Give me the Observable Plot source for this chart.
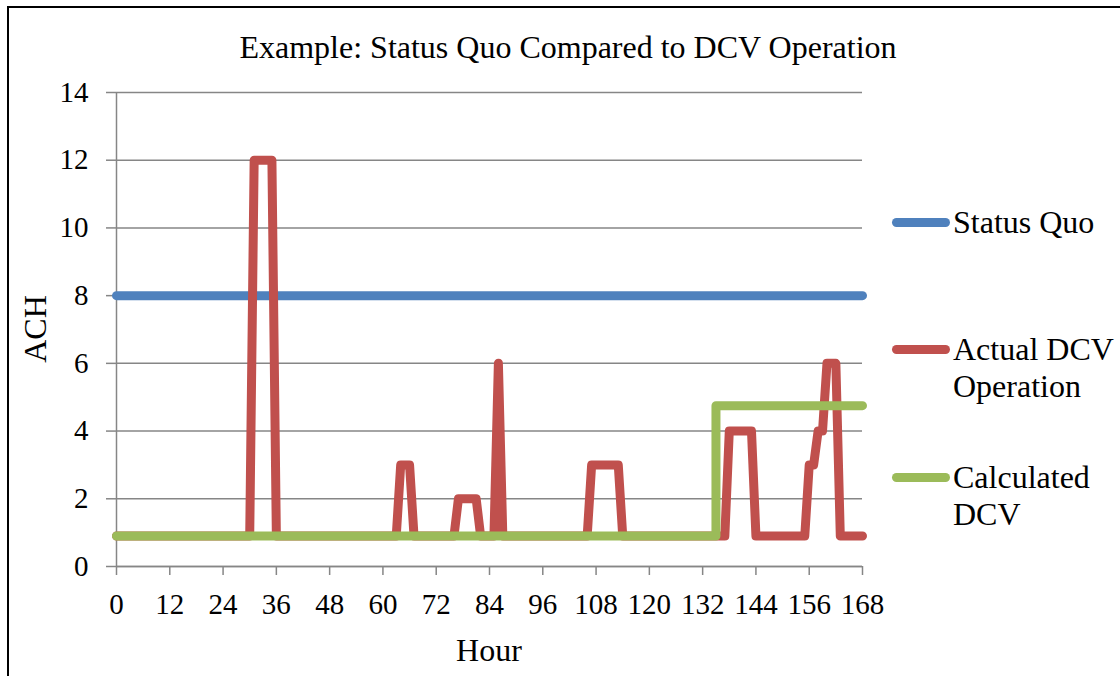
<!DOCTYPE html>
<html>
<head>
<meta charset="utf-8">
<script src="https://cdn.jsdelivr.net/npm/d3@7"></script>
<script src="https://cdn.jsdelivr.net/npm/@observablehq/plot@0.6"></script>
<style>
  html, body { margin: 0; padding: 0; background: #fff; }
  #wrap { position: relative; width: 1120px; height: 676px; overflow: hidden; font-family: "Liberation Serif", "Times New Roman", serif; }
  #frame { position: absolute; left: 7px; top: 6px; width: 1200px; height: 800px; border-left: 2px solid #000; border-top: 2px solid #000; }
  #chart { position: absolute; left: 0; top: 0; }
  #title { position: absolute; left: 8px; width: 1120px; top: 31px; text-align: center; font-size: 32px; line-height: 32px; color: #000; white-space: nowrap; }
  .axt { position: absolute; font-size: 32px; line-height: 32px; color: #000; text-align: center; white-space: nowrap; }
  #ylab { left: -15px; top: 313px; width: 100px; transform: rotate(-90deg); }
  #xlab { left: 389px; top: 634px; width: 200px; }
  .leg { position: absolute; left: 892px; font-size: 32px; line-height: 37px; color: #000; }
  .leg .sw { position: absolute; left: 0; width: 58px; height: 9px; border-radius: 5px; }
  .leg .tx { position: absolute; left: 61px; white-space: nowrap; }
</style>
</head>
<body>
<div id="wrap">
  <div id="frame"></div>
  <div id="chart"></div>
  <div id="title">Example: Status Quo Compared to DCV Operation</div>
  <div id="ylab" class="axt">ACH</div>
  <div id="xlab" class="axt">Hour</div>
  <div id="legend"></div>
</div>
<script>
// ---- data ----
const xTicks = [0, 12, 24, 36, 48, 60, 72, 84, 96, 108, 120, 132, 144, 156, 168];
const yTicks = [0, 2, 4, 6, 8, 10, 12, 14];

const seriesNames = ["Status Quo", "Actual DCV Operation", "Calculated DCV"];
const seriesColors = ["#4F81BD", "#C0504D", "#9BBB59"];

const statusHours = [0, 168];
const statusValues = [8, 8];

const actualHours = [0, 30, 31, 35, 36, 63, 64, 66, 67, 76, 77, 81, 82, 85, 86, 87, 106, 107, 113, 114, 137, 138, 143, 144, 155, 156, 157, 158, 159, 160, 162, 163, 168];
const actualValues = [0.9, 0.9, 12, 12, 0.9, 0.9, 3, 3, 0.9, 0.9, 2, 2, 0.9, 0.9, 6, 0.9, 0.9, 3, 3, 0.9, 0.9, 4, 4, 0.9, 0.9, 3, 3, 4, 4, 6, 6, 0.9, 0.9];

const calcHours = [0, 135, 135, 168];
const calcValues = [0.9, 0.9, 4.75, 4.75];

// ---- build tables ----
const toRows = (hs, vs, s) => hs.map((h, i) => ({hour: h, ach: vs[i], series: s}));
const statusRows = toRows(statusHours, statusValues, seriesNames[0]);
const actualRows = toRows(actualHours, actualValues, seriesNames[1]);
const calcRows = toRows(calcHours, calcValues, seriesNames[2]);

const grid = "#868686";
const lineStyle = {x: "hour", y: "ach", strokeWidth: 9, strokeLinejoin: "round", strokeLinecap: "round"};

const plot = Plot.plot({
  width: 1120,
  height: 676,
  marginLeft: 116,
  marginRight: 258,
  marginTop: 92,
  marginBottom: 110,
  style: {fontFamily: "'Liberation Serif', 'Times New Roman', serif", fontSize: "29px", color: "#000", background: "transparent", overflow: "visible"},
  x: {domain: [0, 168]},
  y: {domain: [0, 14]},
  marks: [
    Plot.gridY(yTicks, {stroke: grid, strokeOpacity: 1, strokeWidth: 1.5}),
    Plot.axisY(yTicks, {tickSize: 10, tickPadding: 18, stroke: grid, strokeWidth: 1.5, tickFormat: d => String(d), label: null, fill: "#000"}),
    Plot.axisX(xTicks, {tickSize: 9, tickPadding: 18, stroke: grid, strokeWidth: 1.5, tickFormat: d => String(d), label: null, fill: "#000"}),
    Plot.ruleX([0], {stroke: grid, strokeWidth: 1.5}),
    Plot.ruleY([0], {stroke: grid, strokeWidth: 1.5}),
    Plot.line(statusRows, {...lineStyle, stroke: seriesColors[0]}),
    Plot.line(actualRows, {...lineStyle, stroke: seriesColors[1]}),
    Plot.line(calcRows, {...lineStyle, stroke: seriesColors[2]})
  ]
});
document.getElementById("chart").appendChild(plot);

// ---- legend ----
const legendTops = [204, 331, 459];
const legendLines = [["Status Quo"], ["Actual DCV", "Operation"], ["Calculated", "DCV"]];
const legend = document.getElementById("legend");
seriesNames.forEach((name, i) => {
  const item = document.createElement("div");
  item.className = "leg";
  item.style.top = legendTops[i] + "px";
  const sw = document.createElement("div");
  sw.className = "sw";
  sw.style.background = seriesColors[i];
  sw.style.top = "14px";
  const tx = document.createElement("div");
  tx.className = "tx";
  tx.innerHTML = legendLines[i].join("<br>");
  item.appendChild(sw);
  item.appendChild(tx);
  legend.appendChild(item);
});
</script>
</body>
</html>
